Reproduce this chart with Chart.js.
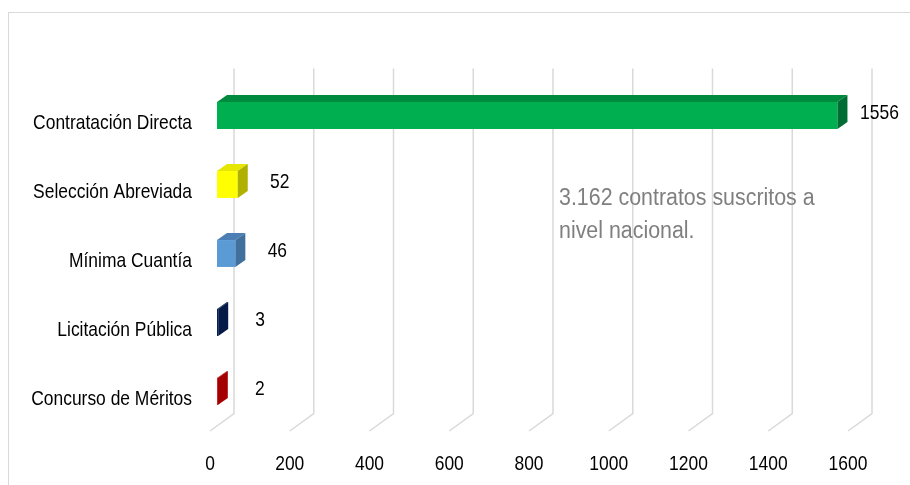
<!DOCTYPE html>
<html>
<head>
<meta charset="utf-8">
<script src="https://cdn.jsdelivr.net/npm/chart.js@4.4.1/dist/chart.umd.min.js"></script>
<style>
	body { margin: 0; background: #ffffff; }
	#wrap { width: 910px; height: 485px; }
</style>
</head>
<body>
<div id="wrap"><canvas id="myChart" width="910" height="485"></canvas></div>
<script>
var categorias = ['Contratación Directa', 'Selección Abreviada', 'Mínima Cuantía', 'Licitación Pública', 'Concurso de Méritos'];
var contratos = [1556, 52, 46, 3, 2];
var colores = ['#00b050', '#ffff00', '#5b9bd5', '#002060', '#c00000'];
var coloresTop = ['#008a3e', '#e6e600', '#4a7eb5', '#0a1f50', '#b00000'];
var coloresZij = ['#006e32', '#b0b000', '#41709c', '#061a48', '#a40000'];
var xMin = 0, xMax = 1600, xStap = 200;
var notaRegels = ['3.162 contratos suscritos a', 'nivel nacional.'];

var fontFam = "'Liberation Sans', Arial, sans-serif";
var smal = 0.83;	// text in the original is horizontally squeezed

// 3d offsets (bar plane -> back wall / front floor / bar depth)
var achter = {x: 17, y: -12.5};
var voor = {x: -7, y: 5};
var diepte = {x: 10, y: -7};

function smalTekst(ctx, tekst, x, y, align, size, kleur, sx) {
	ctx.save();
	ctx.translate(x, y);
	ctx.scale(sx, 1);
	ctx.fillStyle = kleur;
	ctx.font = size + 'px ' + fontFam;
	ctx.textAlign = align;
	ctx.textBaseline = 'middle';
	ctx.fillText(tekst, 0, 0);
	ctx.restore();
};

var kader = {
	id: 'kader',
	beforeDraw: function(chart) {
		var ctx = chart.ctx;
		ctx.save();
		ctx.strokeStyle = '#d9d9d9';
		ctx.lineWidth = 1;
		ctx.strokeRect(8.5, 12.5, 1000, 1000);
		ctx.restore();
	}
};

var rooster = {
	id: 'rooster',
	beforeDatasetsDraw: function(chart) {
		var ctx = chart.ctx;
		var xs = chart.scales.x;
		var area = chart.chartArea;
		ctx.save();
		ctx.strokeStyle = '#d9d9d9';
		ctx.lineWidth = 1.5;
		for (let i = 0; i < xs.ticks.length; i++) {
			var px = xs.getPixelForTick(i);
			ctx.beginPath();
			ctx.moveTo(px + achter.x, area.top + achter.y);
			ctx.lineTo(px + achter.x, area.bottom + achter.y);
			ctx.lineTo(px + voor.x, area.bottom + voor.y);
			ctx.stroke();
		}
		ctx.restore();
	}
};

var balken3d = {
	id: 'balken3d',
	afterDatasetsDraw: function(chart) {
		var ctx = chart.ctx;
		var meta = chart.getDatasetMeta(0);
		ctx.save();
		meta.data.forEach(function(bar, i) {
			var p = bar.getProps(['x', 'y', 'base', 'height'], true);
			var x0 = p.base, x1 = p.x;
			var top = p.y - p.height / 2, bottom = p.y + p.height / 2;
			// top face
			ctx.fillStyle = coloresTop[i];
			ctx.beginPath();
			ctx.moveTo(x0, top);
			ctx.lineTo(x1, top);
			ctx.lineTo(x1 + diepte.x, top + diepte.y);
			ctx.lineTo(x0 + diepte.x, top + diepte.y);
			ctx.closePath();
			ctx.fill();
			// side face
			ctx.fillStyle = coloresZij[i];
			ctx.beginPath();
			ctx.moveTo(x1, top);
			ctx.lineTo(x1 + diepte.x, top + diepte.y);
			ctx.lineTo(x1 + diepte.x, bottom + diepte.y);
			ctx.lineTo(x1, bottom);
			ctx.closePath();
			ctx.fill();
			// value label
			smalTekst(ctx, String(contratos[i]), x1 + 42, p.y - 2, 'center', 21, '#000000', smal);
		});
		ctx.restore();
	}
};

var labels = {
	id: 'labels',
	afterDraw: function(chart) {
		var ctx = chart.ctx;
		var xs = chart.scales.x;
		var ys = chart.scales.y;
		var area = chart.chartArea;
		// x ticks on the front floor
		xs.ticks.forEach(function(t, i) {
			smalTekst(ctx, String(t.value), xs.getPixelForTick(i) + voor.x, area.bottom + 38.5, 'center', 21, '#000000', smal);
		});
		// categories
		ys.ticks.forEach(function(t, i) {
			smalTekst(ctx, ys.getLabelForValue(t.value), area.left - 25, ys.getPixelForTick(i) + 8, 'right', 21, '#000000', smal);
		});
		// note
		smalTekst(ctx, notaRegels[0], 559, 199, 'left', 23, '#7f7f7f', 0.93);
		smalTekst(ctx, notaRegels[1], 559, 232, 'left', 23, '#7f7f7f', 0.93);
	}
};

var ctx = document.getElementById('myChart');
var chart = new Chart(ctx, {
	type: 'bar',
	data: {
		labels: categorias,
		datasets: [{
			data: contratos,
			backgroundColor: colores,
			borderWidth: 0,
			barPercentage: 0.39,
			categoryPercentage: 1
		}]
	},
	options: {
		indexAxis: 'y',
		responsive: false,
		animation: false,
		devicePixelRatio: 1,
		layout: { padding: { top: 81, right: 55, bottom: 0, left: 0 } },
		plugins: {
			legend: { display: false },
			tooltip: { enabled: false }
		},
		scales: {
			x: {
				min: xMin,
				max: xMax,
				border: { display: false },
				grid: { display: false, drawTicks: false },
				ticks: {
					stepSize: xStap,
					color: 'rgba(0,0,0,0)',
					maxRotation: 0,
					font: { family: fontFam, size: 21 }
				},
				afterFit: function(scale) { scale.height = 59; }
			},
			y: {
				border: { display: false },
				grid: { display: false, drawTicks: false },
				ticks: {
					color: 'rgba(0,0,0,0)',
					font: { family: fontFam, size: 21 }
				},
				afterFit: function(scale) { scale.width = 217; }
			}
		}
	},
	plugins: [kader, rooster, balken3d, labels]
});
</script>
</body>
</html>
